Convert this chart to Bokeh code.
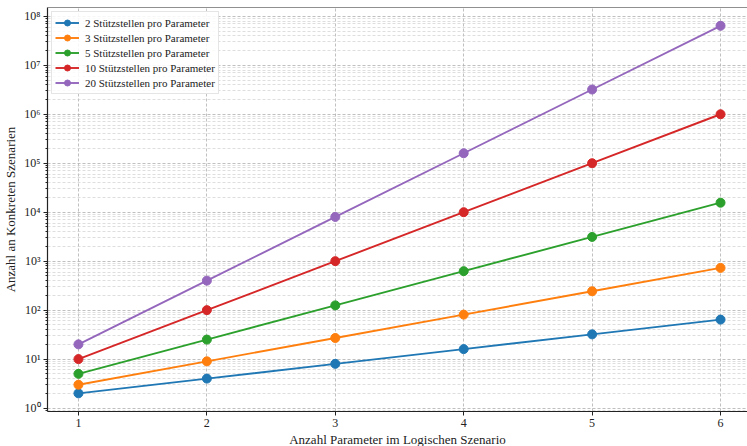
from bokeh.plotting import figure
from bokeh.models import Range1d, FixedTicker, CustomJSTickFormatter, Span, Title
from bokeh.embed import file_html
from bokeh.resources import INLINE

params = [1, 2, 3, 4, 5, 6]
s2 = [2, 4, 8, 16, 32, 64]
s3 = [3, 9, 27, 81, 243, 729]
s5 = [5, 25, 125, 625, 3125, 15625]
s10 = [10, 100, 1000, 10000, 100000, 1000000]
s20 = [20, 400, 8000, 160000, 3200000, 64000000]

labels = ["2 Stützstellen pro Parameter", "3 Stützstellen pro Parameter",
          "5 Stützstellen pro Parameter", "10 Stützstellen pro Parameter",
          "20 Stützstellen pro Parameter"]
series = [s2, s3, s5, s10, s20]
colors = ["#1f77b4", "#ff7f0e", "#2ca02c", "#d62728", "#9467bd"]
x_title = "Anzahl Parameter im Logischen Szenario"
y_title = "Anzahl an Konkreten Szenarien"

y_major = [10 ** e for e in range(0, 9)]
y_minor = [m * 10 ** e for e in range(-1, 9) for m in range(2, 10)]

FONT = "Liberation Serif"
LOG_LO, LOG_HI = -0.07, 8.18

p = figure(width=747, height=446, y_axis_type="log",
           x_range=Range1d(0.759, 6.21),
           y_range=Range1d(10 ** LOG_LO, 10 ** LOG_HI),
           output_backend="svg", toolbar_location=None,
           min_border_left=10, min_border_right=0, min_border_top=7, min_border_bottom=0)
p.outline_line_color = None
p.background_fill_color = "white"

for s, c, lab in zip(series, colors, labels):
    p.line(params, s, line_color=c, line_width=1.9, legend_label=lab)
    p.scatter(params, s, size=9, fill_color=c, line_color=c, legend_label=lab)

top = Span(location=10 ** LOG_HI, dimension="width", line_color="#222222", line_width=1.2)
p.add_layout(top)

p.xaxis.ticker = FixedTicker(ticks=params)
p.yaxis.ticker = FixedTicker(ticks=y_major, minor_ticks=y_minor)
p.yaxis.formatter = CustomJSTickFormatter(code="""
const sup = {"0":"\u2070","1":"\u00b9","2":"\u00b2","3":"\u00b3","4":"\u2074","5":"\u2075","6":"\u2076","7":"\u2077","8":"\u2078","9":"\u2079","-":"\u207b"};
const e = Math.round(Math.log10(tick));
return "10" + String(e).split("").map(c => sup[c]).join("");
""")

for ax in (p.xaxis, p.yaxis):
    ax.axis_line_color = "#222222"
    ax.axis_line_width = 1.2
    ax.major_tick_line_color = "#222222"
    ax.minor_tick_line_color = "#222222"
    ax.major_tick_out = 4
    ax.major_tick_in = 0
    ax.minor_tick_out = 2
    ax.minor_tick_in = 0
    ax.major_label_text_font = FONT
    ax.major_label_text_font_size = "12px"
    ax.major_label_text_color = "#222222"
    ax.axis_label_text_font = FONT
    ax.axis_label_text_font_size = "13px"
    ax.axis_label_text_font_style = "normal"
    ax.axis_label_text_color = "#222222"
    ax.major_label_standoff = 3
    ax.axis_label_standoff = 3

p.xaxis.minor_tick_line_color = None
p.xaxis.major_label_standoff = 3
p.yaxis.axis_label = y_title

xt = Title(text=x_title, align="center", text_font=FONT, text_font_size="13px",
           text_font_style="normal", text_color="#222222", standoff=0, offset=0)
p.add_layout(xt, "below")

p.xgrid.grid_line_color = "#b0b0b0"
p.xgrid.grid_line_dash = "3 2"
p.xgrid.grid_line_alpha = 0.8
p.ygrid.grid_line_color = "#b0b0b0"
p.ygrid.grid_line_dash = "3 2"
p.ygrid.grid_line_alpha = 0.8
p.ygrid.minor_grid_line_color = "#c8c8c8"
p.ygrid.minor_grid_line_dash = "3 2"
p.ygrid.minor_grid_line_alpha = 0.6

lg = p.legend[0]
lg.location = "top_left"
lg.margin = 4
lg.padding = 3
lg.spacing = 0
lg.glyph_width = 24
lg.glyph_height = 15
lg.label_height = 15
lg.label_standoff = 6
lg.label_text_font = FONT
lg.label_text_font_size = "11px"
lg.label_text_color = "#222222"
lg.border_line_color = "#cccccc"
lg.border_line_width = 1
lg.background_fill_alpha = 0.85

open("out.html", "w").write(file_html(p, INLINE))
